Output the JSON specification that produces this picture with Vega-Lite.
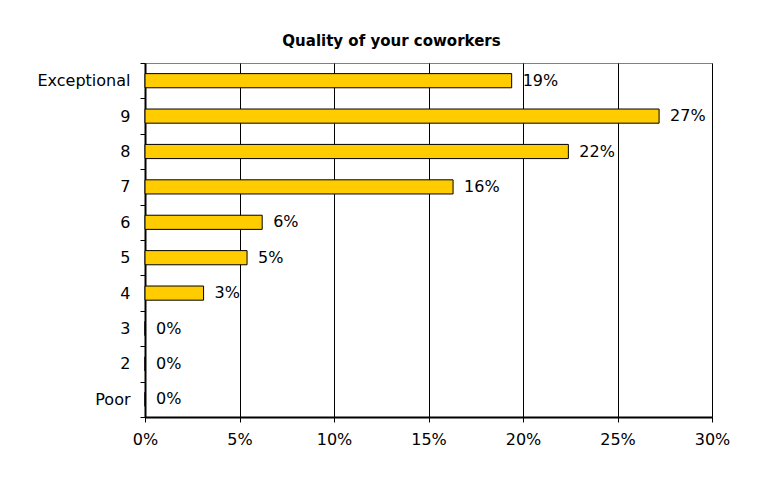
{
  "$schema": "https://vega.github.io/schema/vega-lite/v6.json",
  "width": 567,
  "height": 354,
  "autosize": {"type": "none"},
  "padding": {"left": 145, "top": 63, "right": 60, "bottom": 63},
  "background": "white",
  "title": {
    "text": "Quality of your coworkers",
    "font": "DejaVu Sans",
    "fontSize": 15,
    "fontWeight": "bold",
    "color": "black",
    "offset": 6,
    "dx": -37
  },
  "data": {
    "values": [
      {"rating": "Exceptional", "share": 0.194},
      {"rating": "9", "share": 0.272},
      {"rating": "8", "share": 0.224},
      {"rating": "7", "share": 0.163},
      {"rating": "6", "share": 0.062},
      {"rating": "5", "share": 0.054},
      {"rating": "4", "share": 0.031},
      {"rating": "3", "share": 0.0},
      {"rating": "2", "share": 0.0},
      {"rating": "Poor", "share": 0.0}
    ]
  },
  "encoding": {
    "y": {
      "field": "rating",
      "type": "nominal",
      "sort": null,
      "scale": {"paddingInner": 0, "paddingOuter": 0},
      "axis": {
        "title": null,
        "tickBand": "extent",
        "domainColor": "black",
        "domainWidth": 2,
        "tickColor": "black",
        "tickSize": 5,
        "labelPadding": 10,
        "labelFont": "DejaVu Sans",
        "labelFontSize": 16,
        "labelColor": "black",
        "grid": false
      }
    },
    "x": {
      "field": "share",
      "type": "quantitative",
      "scale": {"domain": [0, 0.3], "nice": false},
      "axis": {
        "title": null,
        "format": ".0%",
        "values": [0, 0.05, 0.1, 0.15, 0.2, 0.25, 0.3],
        "grid": true,
        "gridColor": "black",
        "gridOpacity": 1,
        "gridWidth": 1,
        "domainColor": "black",
        "domainWidth": 2,
        "tickColor": "black",
        "tickSize": 5,
        "labelPadding": 9,
        "labelFlush": false,
        "labelFont": "DejaVu Sans",
        "labelFontSize": 16,
        "labelColor": "black"
      }
    }
  },
  "layer": [
    {
      "mark": {"type": "bar", "color": "#FFCC00", "stroke": "black", "strokeWidth": 1, "height": {"band": 0.4}}
    },
    {
      "mark": {
        "type": "text",
        "align": "left",
        "baseline": "middle",
        "dx": 11,
        "font": "DejaVu Sans",
        "fontSize": 16,
        "color": "black"
      },
      "encoding": {
        "text": {"field": "share", "type": "quantitative", "format": ".0%"}
      }
    }
  ],
  "config": {
    "view": {"stroke": "#808080", "strokeWidth": 1}
  }
}
